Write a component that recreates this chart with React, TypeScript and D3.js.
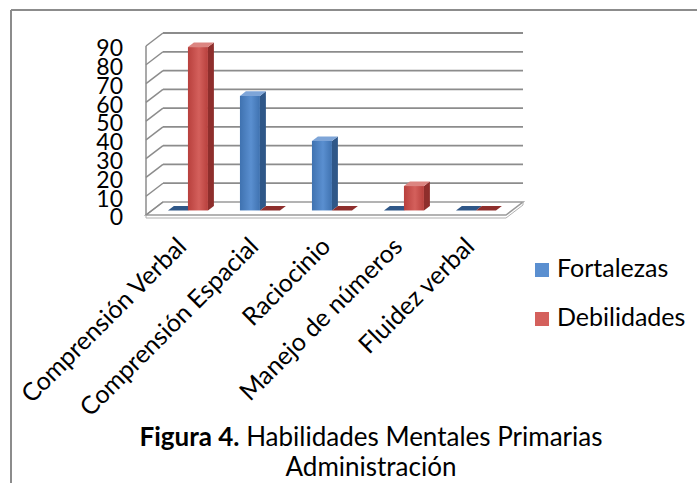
import React from 'react';
import * as d3 from 'd3';

// chart data
const categories = ['Comprensión Verbal', 'Comprensión Espacial', 'Raciocinio', 'Manejo de números', 'Fluidez verbal'];
const seriesNames = ['Fortalezas', 'Debilidades'];
const fortalezas = [0, 61, 37, 0, 0];
const debilidades = [87, 0, 0, 13, 0];
const yTicks = [0, 10, 20, 30, 40, 50, 60, 70, 80, 90];

const W = 697;
const H = 483;
const FONT = 'Lato, "Open Sans", sans-serif';

// pseudo 3d frame
const frontX = 146;
const frontY = 215;
const plotW = 360;
const depthX = 17;
const depthY = -13;
const barF1 = 0.35;
const barF2 = 0.7;

const colors: Record<string, { front: [string, string]; side: string; top: string }> = {
  Fortalezas: { front: ['#3f72b0', '#5a8fd0'], side: '#2f5788', top: '#7ea5d8' },
  Debilidades: { front: ['#b8403d', '#d4605c'], side: '#8e2e2c', top: '#dc8581' },
};

const App: React.FC = () => {
  const x = d3.scaleBand<string>().domain(categories).range([0, plotW]).padding(0);
  const xs = d3.scaleBand<string>().domain(seriesNames).range([16, 56]).padding(0);
  const y = d3.scaleLinear().domain([0, 90]).range([0, 169]);

  const values: Record<string, number[]> = { Fortalezas: fortalezas, Debilidades: debilidades };

  const backX0 = frontX + depthX;
  const backY0 = frontY + depthY;

  const bars = seriesNames.flatMap((s) =>
    categories.map((c, i) => {
      const v = values[s][i];
      const bx = frontX + x(c)! + xs(s)! + depthX * barF1;
      const by = frontY + depthY * barF1;
      const bw = xs.bandwidth();
      const h = y(v);
      const ddx = depthX * (barF2 - barF1);
      const ddy = depthY * (barF2 - barF1);
      return { s, c, bx, by, bw, h, ddx, ddy };
    })
  );
  // draw left to right so the side faces overlap right
  bars.sort((a, b) => a.bx - b.bx);

  return (
    <svg width={W} height={H} style={{ position: 'absolute', left: 0, top: 0, background: '#fff' }} fontFamily={FONT}>
      <defs>
        {seriesNames.map((s) => (
          <linearGradient key={s} id={`g-${s}`} x1="0" x2="1" y1="0" y2="0">
            <stop offset="0%" stopColor={colors[s].front[0]} />
            <stop offset="55%" stopColor={colors[s].front[1]} />
            <stop offset="100%" stopColor={colors[s].front[0]} />
          </linearGradient>
        ))}
      </defs>

      {/* outer frame */}
      <line x1={11} y1={10} x2={W} y2={10} stroke="#8c8c8c" strokeWidth={2} />
      <line x1={11} y1={10} x2={11} y2={H} stroke="#8c8c8c" strokeWidth={2} />

      {/* floor */}
      <polygon
        points={`${frontX},${frontY} ${frontX + plotW},${frontY} ${backX0 + plotW},${backY0} ${backX0},${backY0}`}
        fill="#fff"
        stroke="#9a9a9a"
        strokeWidth={1.5}
      />
      <polyline
        points={`${frontX},${frontY} ${frontX},${frontY + 3} ${frontX + plotW},${frontY + 3} ${backX0 + plotW},${backY0 + 3} ${backX0 + plotW},${backY0}`}
        fill="none"
        stroke="#b0b0b0"
        strokeWidth={1}
      />

      {/* walls gridlines */}
      <line x1={frontX} y1={frontY} x2={frontX} y2={frontY - y(90)} stroke="#8c8c8c" strokeWidth={1.5} />
      {yTicks.map((t) => (
        <g key={t}>
          <line x1={frontX} y1={frontY - y(t)} x2={backX0} y2={backY0 - y(t)} stroke="#8c8c8c" strokeWidth={1.5} />
          {t > 0 && (
            <line x1={backX0} y1={backY0 - y(t)} x2={backX0 + plotW} y2={backY0 - y(t)} stroke="#8c8c8c" strokeWidth={1.8} />
          )}
          <text x={123} y={frontY - y(t) + 2} dy="0.36em" textAnchor="end" fontSize={23} fill="#000">
            {t}
          </text>
        </g>
      ))}

      {/* bars */}
      {bars.map((b) => (
        <g key={b.s + b.c}>
          <polygon
            points={`${b.bx + b.bw},${b.by} ${b.bx + b.bw + b.ddx},${b.by + b.ddy} ${b.bx + b.bw + b.ddx},${b.by - b.h + b.ddy} ${b.bx + b.bw},${b.by - b.h}`}
            fill={colors[b.s].side}
          />
          <rect x={b.bx} y={b.by - b.h} width={b.bw} height={b.h} fill={`url(#g-${b.s})`} />
          <polygon
            points={`${b.bx},${b.by - b.h} ${b.bx + b.bw},${b.by - b.h} ${b.bx + b.bw + b.ddx},${b.by - b.h + b.ddy} ${b.bx + b.ddx},${b.by - b.h + b.ddy}`}
            fill={b.h > 0 ? colors[b.s].top : colors[b.s].side}
          />
        </g>
      ))}

      {/* category labels */}
      {categories.map((c) => {
        const cx = frontX + x(c)! + x.bandwidth() / 2 + 6;
        const cy = 248;
        return (
          <text key={c} x={cx} y={cy} textAnchor="end" fontSize={25} transform={`rotate(-45, ${cx}, ${cy})`} fill="#000">
            {c}
          </text>
        );
      })}

      {/* legend */}
      {seriesNames.map((s, i) => (
        <g key={s} transform={`translate(535, ${263 + i * 49})`}>
          <rect x={0} y={0} width={14} height={14} fill={colors[s].front[1]} />
          <text x={22} y={14} fontSize={25} fill="#000">
            {s}
          </text>
        </g>
      ))}

      {/* caption */}
      <text x={371} y={446} textAnchor="middle" fontSize={26} fill="#000">
        <tspan fontWeight="bold">Figura 4.</tspan> Habilidades Mentales Primarias
      </text>
      <text x={371} y={476} textAnchor="middle" fontSize={26} fill="#000">
        Administración
      </text>
    </svg>
  );
};

export default App;
